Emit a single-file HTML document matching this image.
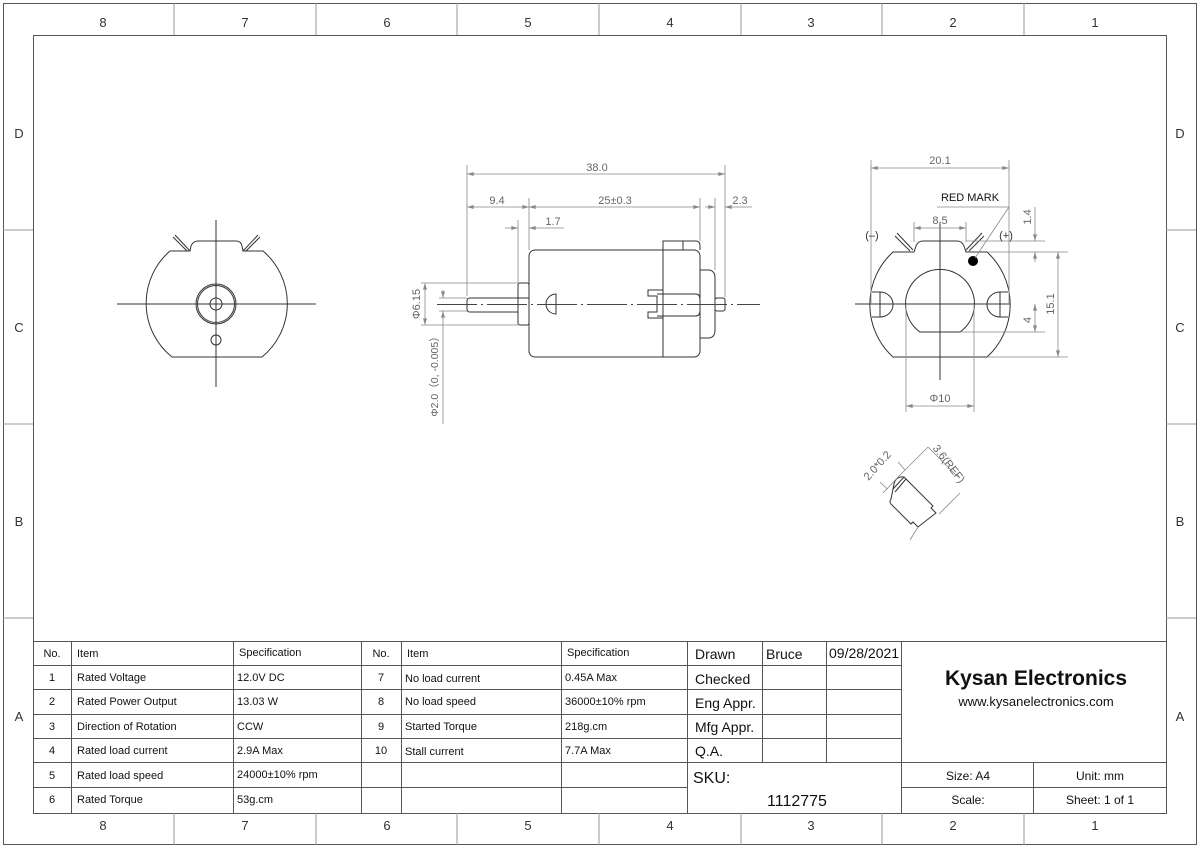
<!DOCTYPE html>
<html><head><meta charset="utf-8"><style>
html,body{margin:0;padding:0;background:#fff}
svg{display:block}
text{font-family:"Liberation Sans",sans-serif}
.z{font-family:"Liberation Serif",serif;font-size:13px;fill:#333}
.t{font-size:11px;fill:#111}
.d{font-size:11px;fill:#666}
</style></head><body>
<svg width="1200" height="848" viewBox="0 0 1200 848" xmlns="http://www.w3.org/2000/svg">
<defs>
<marker id="a" viewBox="0 0 10 6" refX="10" refY="3" markerWidth="8" markerHeight="4" orient="auto-start-reverse" markerUnits="userSpaceOnUse"><path d="M0,0 L10,3 L0,6 Z" fill="#888"/></marker>
</defs>
<rect x="3.5" y="3.5" width="1193" height="841" fill="none" stroke="#555" stroke-width="1"/>
<rect x="33.5" y="35.5" width="1133" height="778" fill="none" stroke="#555" stroke-width="1"/>
<g stroke="#999" stroke-width="1">
<line x1="174" y1="3" x2="174" y2="35"/><line x1="316" y1="3" x2="316" y2="35"/><line x1="457" y1="3" x2="457" y2="35"/><line x1="599" y1="3" x2="599" y2="35"/><line x1="741" y1="3" x2="741" y2="35"/><line x1="882" y1="3" x2="882" y2="35"/><line x1="1024" y1="3" x2="1024" y2="35"/>
<line x1="174" y1="813" x2="174" y2="845"/><line x1="316" y1="813" x2="316" y2="845"/><line x1="457" y1="813" x2="457" y2="845"/><line x1="599" y1="813" x2="599" y2="845"/><line x1="741" y1="813" x2="741" y2="845"/><line x1="882" y1="813" x2="882" y2="845"/><line x1="1024" y1="813" x2="1024" y2="845"/>
<line x1="3" y1="230" x2="33" y2="230"/><line x1="3" y1="424" x2="33" y2="424"/><line x1="3" y1="618" x2="33" y2="618"/>
<line x1="1166" y1="230" x2="1196" y2="230"/><line x1="1166" y1="424" x2="1196" y2="424"/><line x1="1166" y1="618" x2="1196" y2="618"/>
</g>
<g class="z" text-anchor="middle">
<text x="103" y="27">8</text><text x="245" y="27">7</text><text x="387" y="27">6</text><text x="528" y="27">5</text><text x="670" y="27">4</text><text x="811" y="27">3</text><text x="953" y="27">2</text><text x="1095" y="27">1</text>
<text x="103" y="830">8</text><text x="245" y="830">7</text><text x="387" y="830">6</text><text x="528" y="830">5</text><text x="670" y="830">4</text><text x="811" y="830">3</text><text x="953" y="830">2</text><text x="1095" y="830">1</text>
<text x="19" y="138">D</text><text x="19" y="332">C</text><text x="19" y="526">B</text><text x="19" y="721">A</text>
<text x="1180" y="138">D</text><text x="1180" y="332">C</text><text x="1180" y="526">B</text><text x="1180" y="721">A</text>
</g>

<!-- table -->
<g stroke="#555" stroke-width="1" fill="none">
<line x1="33" y1="641.5" x2="1166" y2="641.5"/>
<line x1="33" y1="665.5" x2="901" y2="665.5"/>
<line x1="33" y1="689.5" x2="901" y2="689.5"/>
<line x1="33" y1="714.5" x2="901" y2="714.5"/>
<line x1="33" y1="738.5" x2="901" y2="738.5"/>
<line x1="33" y1="762.5" x2="1166" y2="762.5"/>
<line x1="33" y1="787.5" x2="687" y2="787.5"/>
<line x1="901" y1="787.5" x2="1166" y2="787.5"/>
<line x1="71.5" y1="641" x2="71.5" y2="813"/>
<line x1="233.5" y1="641" x2="233.5" y2="813"/>
<line x1="361.5" y1="641" x2="361.5" y2="813"/>
<line x1="401.5" y1="641" x2="401.5" y2="813"/>
<line x1="561.5" y1="641" x2="561.5" y2="813"/>
<line x1="687.5" y1="641" x2="687.5" y2="813"/>
<line x1="762.5" y1="641" x2="762.5" y2="762"/>
<line x1="826.5" y1="641" x2="826.5" y2="762"/>
<line x1="901.5" y1="641" x2="901.5" y2="813"/>
<line x1="1033.5" y1="762" x2="1033.5" y2="813"/>
</g>
<g class="t">
<text x="52" y="657" text-anchor="middle">No.</text><text x="77" y="657">Item</text><text x="239" y="656">Specification</text>
<text x="381" y="657" text-anchor="middle">No.</text><text x="407" y="657">Item</text><text x="567" y="656">Specification</text>
<text x="52" y="681" text-anchor="middle">1</text><text x="77" y="681">Rated Voltage</text><text x="237" y="681">12.0V DC</text>
<text x="52" y="705" text-anchor="middle">2</text><text x="77" y="705">Rated Power Output</text><text x="237" y="705">13.03 W</text>
<text x="52" y="730" text-anchor="middle">3</text><text x="77" y="730">Direction of Rotation</text><text x="237" y="730">CCW</text>
<text x="52" y="754" text-anchor="middle">4</text><text x="77" y="754">Rated load current</text><text x="237" y="754">2.9A Max</text>
<text x="52" y="779" text-anchor="middle">5</text><text x="77" y="779">Rated load speed</text><text x="237" y="778">24000±10% rpm</text>
<text x="52" y="803" text-anchor="middle">6</text><text x="77" y="803">Rated Torque</text><text x="237" y="803">53g.cm</text>
<text x="381" y="681" text-anchor="middle">7</text><text x="405" y="682">No load current</text><text x="565" y="681">0.45A Max</text>
<text x="381" y="705" text-anchor="middle">8</text><text x="405" y="705">No load  speed</text><text x="565" y="705">36000±10% rpm</text>
<text x="381" y="730" text-anchor="middle">9</text><text x="405" y="730">Started  Torque</text><text x="565" y="730">218g.cm</text>
<text x="381" y="754" text-anchor="middle">10</text><text x="405" y="755">Stall current</text><text x="565" y="754">7.7A Max</text>
</g>
<g style="font-size:14px;fill:#111">
<text x="695" y="659">Drawn</text><text x="766" y="659">Bruce</text><text x="829" y="658">09/28/2021</text>
<text x="695" y="684">Checked</text><text x="695" y="708">Eng Appr.</text><text x="695" y="732">Mfg Appr.</text><text x="695" y="756">Q.A.</text>
<text x="693" y="783" style="font-size:16px">SKU:</text>
<text x="797" y="806" text-anchor="middle" style="font-size:16px">1112775</text>
</g>
<text x="1036" y="685" text-anchor="middle" style="font-size:21px;font-weight:bold;fill:#111">Kysan Electronics</text>
<text x="1036" y="706" text-anchor="middle" style="font-size:13px;fill:#111">www.kysanelectronics.com</text>
<g class="t" text-anchor="middle" style="font-size:12px">
<text x="968" y="780">Size: A4</text><text x="1100" y="780">Unit: mm</text>
<text x="968" y="804">Scale:</text><text x="1100" y="804">Sheet: 1 of 1</text>
</g>

<!-- left view -->
<g stroke="#333" stroke-width="1" fill="none">
<path d="M170,251 L190,251 L191,246 Q193,241 198,241 L236,241 Q241,241 242,246 L243,251 L263,251 A69,69 0 0 1 262,357 L172,357 A69,69 0 0 1 170,251 Z"/>
<line x1="190" y1="251" x2="175" y2="235"/><line x1="187" y1="251" x2="173" y2="237"/>
<line x1="243" y1="251" x2="258" y2="235"/><line x1="246" y1="251" x2="260" y2="237"/>
<circle cx="216" cy="304" r="20"/><circle cx="216" cy="304" r="18.5"/><circle cx="216" cy="304" r="6"/>
<circle cx="216" cy="340" r="5"/>
<line x1="117" y1="304" x2="316" y2="304"/><line x1="216" y1="220" x2="216" y2="387"/>
</g>

<!-- side view -->
<g stroke="#333" stroke-width="1" fill="none">
<rect x="529" y="250" width="171" height="107" rx="6"/>
<line x1="663" y1="250" x2="663" y2="357"/>
<path d="M663,250 L663,241 L696,241 Q700,241 700,246 L700,250"/><line x1="683" y1="241" x2="683" y2="250"/>
<rect x="518" y="283" width="11" height="42" rx="2"/>
<path d="M529,298 L470,298 Q467,298 467,301 L467,309 Q467,312 470,312 L518,312"/>
<path d="M556,294 A10,10 0 0 0 556,314 Z"/>
<path d="M663,290 L648,290 L648,296 L657,296 L657,312 L648,312 L648,318 L663,318"/>
<path d="M657,294 L696,294 Q700,294 700,300 M657,316 L696,316 Q700,316 700,310"/>
<path d="M700,270 L708,270 Q715,270 715,278 L715,330 Q715,338 708,338 L700,338"/>
<rect x="715" y="298" width="10" height="13" rx="2"/>
</g>
<line x1="437" y1="304.5" x2="760" y2="304.5" stroke="#444" stroke-width="1" stroke-dasharray="40,4,2,4"/>
<g stroke="#888" stroke-width="0.8" fill="none">
<line x1="467" y1="165" x2="467" y2="296"/><line x1="725" y1="165" x2="725" y2="297"/>
<line x1="467" y1="174" x2="725" y2="174" marker-start="url(#a)" marker-end="url(#a)"/>
<line x1="467" y1="207" x2="529" y2="207" marker-start="url(#a)" marker-end="url(#a)"/><line x1="529" y1="207" x2="700" y2="207" marker-start="url(#a)" marker-end="url(#a)"/><line x1="705" y1="207" x2="715" y2="207" marker-end="url(#a)"/><line x1="752" y1="207" x2="725" y2="207" marker-end="url(#a)"/>
<line x1="529" y1="198" x2="529" y2="250"/><line x1="700" y1="198" x2="700" y2="241"/><line x1="715" y1="198" x2="715" y2="270"/>
<line x1="505" y1="228" x2="518" y2="228" marker-end="url(#a)"/><line x1="564" y1="228" x2="529" y2="228" marker-end="url(#a)"/><line x1="518" y1="220" x2="518" y2="283"/>
<line x1="425" y1="283" x2="425" y2="325" marker-start="url(#a)" marker-end="url(#a)"/><line x1="421" y1="283" x2="518" y2="283"/><line x1="421" y1="325" x2="518" y2="325"/>
<line x1="443" y1="290" x2="443" y2="298" marker-end="url(#a)"/><line x1="443" y1="424" x2="443" y2="311" marker-end="url(#a)"/><line x1="439" y1="298" x2="467" y2="298"/><line x1="439" y1="311" x2="467" y2="311"/>
</g>
<g class="d" text-anchor="middle">
<text x="597" y="171">38.0</text><text x="497" y="204">9.4</text><text x="615" y="204">25±0.3</text><text x="740" y="204">2.3</text><text x="553" y="225">1.7</text>
<text transform="translate(420,304) rotate(-90)">Φ6.15</text>
<text transform="translate(438,374) rotate(-90)" style="font-size:10.5px">Φ2.0（0, -0.005）</text>
</g>

<!-- end view right -->
<g stroke="#333" stroke-width="1" fill="none">
<path d="M893,252 L914,252 L916,246 Q918,241 923,241 L957,241 Q962,241 964,246 L966,252 L987,252 A71,71 0 0 1 987,357 L893,357 A71,71 0 0 1 893,252 Z"/>
<line x1="913" y1="250" x2="897" y2="233"/><line x1="910" y1="251" x2="895" y2="236"/>
<line x1="966" y1="250" x2="982" y2="233"/><line x1="969" y1="251" x2="984" y2="236"/>
<path d="M920,332 A34.5,34.5 0 1 1 960,332 Z"/>
<path d="M872,292 L880,292 A13,12.5 0 0 1 880,317 L872,317 M880,292 L880,317"/>
<path d="M1008,292 L1000,292 A13,12.5 0 0 0 1000,317 L1008,317 M1000,292 L1000,317"/>
<line x1="940" y1="222" x2="940" y2="380"/><line x1="855" y1="304" x2="1010" y2="304"/>
</g>
<circle cx="973" cy="261" r="5" fill="#000"/>
<g stroke="#888" stroke-width="0.8" fill="none">
<line x1="871" y1="160" x2="871" y2="303"/><line x1="1009" y1="160" x2="1009" y2="303"/><line x1="871" y1="168" x2="1009" y2="168" marker-start="url(#a)" marker-end="url(#a)"/>
<line x1="937" y1="207" x2="1009" y2="207"/><line x1="1009" y1="207" x2="975" y2="258"/>
<line x1="914" y1="222" x2="914" y2="242"/><line x1="966" y1="222" x2="966" y2="242"/><line x1="914" y1="228" x2="966" y2="228" marker-start="url(#a)" marker-end="url(#a)"/>
<line x1="1035" y1="207" x2="1035" y2="241" marker-end="url(#a)"/><line x1="1035" y1="262" x2="1035" y2="252" marker-end="url(#a)"/><line x1="966" y1="241" x2="1045" y2="241"/><line x1="987" y1="252" x2="1068" y2="252"/>
<line x1="1058" y1="252" x2="1058" y2="357" marker-start="url(#a)" marker-end="url(#a)"/><line x1="987" y1="357" x2="1068" y2="357"/>
<line x1="1035" y1="304" x2="1035" y2="332" marker-start="url(#a)" marker-end="url(#a)"/><line x1="960" y1="332" x2="1045" y2="332"/>
<line x1="906" y1="304" x2="906" y2="412"/><line x1="974" y1="304" x2="974" y2="412"/><line x1="906" y1="406" x2="974" y2="406" marker-start="url(#a)" marker-end="url(#a)"/>
</g>
<g class="d" text-anchor="middle">
<text x="940" y="164">20.1</text><text x="940" y="224">8.5</text><text x="940" y="402">Φ10</text>
<text transform="translate(1031,217) rotate(-90)">1.4</text>
<text transform="translate(1054,304) rotate(-90)">15.1</text>
<text transform="translate(1031,320) rotate(-90)">4</text>
</g>
<text x="970" y="201" text-anchor="middle" style="font-size:11px;fill:#111">RED MARK</text>
<text x="872" y="239" text-anchor="middle" style="font-size:11px;fill:#333">(–)</text>
<text x="1006" y="239" text-anchor="middle" style="font-size:11px;fill:#333">(+)</text>

<!-- detail -->
<g stroke="#333" stroke-width="1" fill="none">
<path d="M894,484 Q896,476 904,477 L933,506 L931,508 L936,513 L918,527 L913,522 L911,524 L891,504 Q889,502 891,499 Z"/>
<line x1="904" y1="477" x2="893" y2="489"/>
<line x1="906" y1="479" x2="895" y2="492"/>
</g>
<g stroke="#888" stroke-width="0.8" fill="none">
<line x1="883" y1="493" x2="905" y2="470"/><line x1="880" y1="482" x2="887" y2="489"/><line x1="898" y1="462" x2="905" y2="470"/>
<line x1="905" y1="470" x2="928" y2="447"/><line x1="928" y1="447" x2="958" y2="477"/><line x1="939" y1="514" x2="960" y2="493"/>
<line x1="918" y1="527" x2="910" y2="540"/>
</g>
<text transform="translate(880,468) rotate(-48)" class="d" text-anchor="middle">2.0*0.2</text>
<text transform="translate(946,466) rotate(52)" class="d" text-anchor="middle">3.6(REF)</text>
</svg>
</body></html>
